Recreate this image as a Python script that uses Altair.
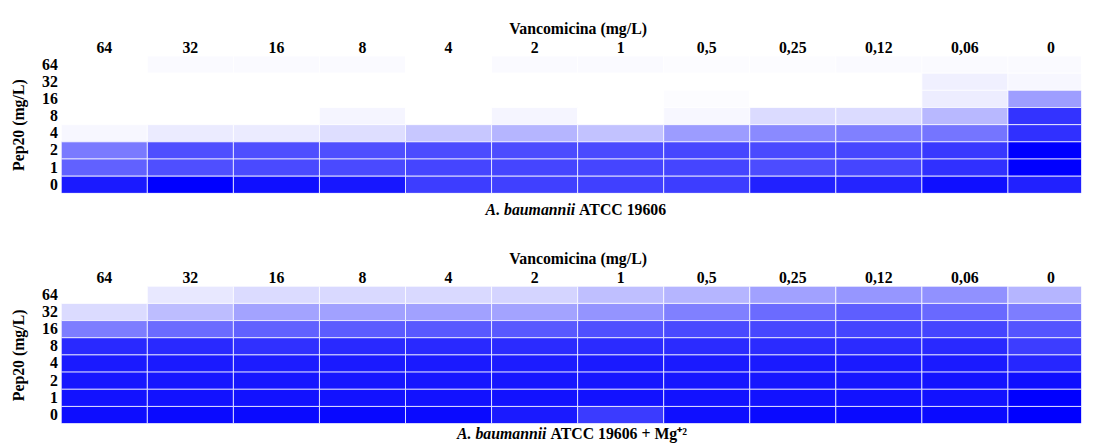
import altair as alt
import pandas as pd

# Vancomycin concentrations (columns) and Pep20 concentrations (rows, top to bottom)
vanco_labels = ["64", "32", "16", "8", "4", "2", "1", "0,5", "0,25", "0,12", "0,06", "0"]
pep_labels = ["64", "32", "16", "8", "4", "2", "1", "0"]

# Bacterial growth (% of control) for A. baumannii ATCC 19606, one list per Pep20 row
growth_std = [
    [0, 2, 2, 2, 0, 2, 2, 1, 1, 2, 2, 2],
    [0, 0, 0, 0, 0, 0, 0, 0, 0, 0, 6, 3],
    [0, 0, 0, 0, 0, 0, 0, 1, 0, 0, 7, 38],
    [0, 0, 0, 4, 0, 4, 0, 3, 14, 14, 28, 80],
    [3, 8, 8, 13, 22, 29, 24, 39, 46, 50, 54, 81],
    [52, 69, 69, 69, 70, 70, 71, 72, 71, 72, 78, 100],
    [62, 69, 71, 71, 73, 73, 73, 73, 70, 73, 81, 100],
    [90, 100, 94, 91, 76, 75, 75, 76, 87, 86, 94, 87],
]

# Same strain with Mg+2 supplementation
growth_mg = [
    [0, 9, 14, 15, 15, 17, 25, 29, 37, 41, 43, 29],
    [14, 26, 36, 37, 37, 36, 42, 50, 58, 63, 59, 51],
    [51, 58, 62, 64, 65, 65, 69, 71, 72, 73, 73, 67],
    [84, 84, 81, 84, 84, 83, 83, 83, 83, 83, 84, 76],
    [90, 90, 89, 90, 90, 89, 90, 90, 90, 90, 90, 85],
    [91, 91, 91, 91, 91, 91, 91, 91, 91, 91, 92, 94],
    [93, 93, 93, 93, 93, 93, 93, 93, 93, 93, 93, 100],
    [95, 96, 96, 97, 96, 90, 77, 94, 96, 96, 96, 100],
]

captions_std = ["A. baumannii", "ATCC 19606"]
captions_mg = ["A. baumannii", "ATCC 19606 + Mg\u207a\u00b2"]

FONT = "Liberation Serif"
FS = 16
W, H = 1032, 139
BAND_SPAN = 1045


def panel(values, caption, split_x, caption_y):
    records = []
    for i, p in enumerate(pep_labels):
        for j, v in enumerate(vanco_labels):
            records.append({"Vancomicina": v, "Pep20": p, "Crescimento": values[i][j]})
    df = pd.DataFrame(records)

    heat = alt.Chart(df).mark_rect(
        stroke="white", strokeWidth=1, strokeOpacity=0.75, clip=True
    ).encode(
        x=alt.X(
            "Vancomicina:N",
            sort=vanco_labels,
            scale=alt.Scale(range=[0, BAND_SPAN], paddingInner=0, paddingOuter=0),
            axis=alt.Axis(
                orient="top", title="Vancomicina (mg/L)", labelAngle=0,
                ticks=False, domain=False, labelPadding=1, titlePadding=3,
                labelFont=FONT, labelFontSize=FS, labelFontWeight="bold", labelColor="black",
                titleFont=FONT, titleFontSize=FS, titleFontWeight="bold", titleColor="black",
            ),
        ),
        y=alt.Y(
            "Pep20:N",
            sort=pep_labels,
            scale=alt.Scale(paddingInner=0, paddingOuter=0),
            axis=alt.Axis(
                title="Pep20 (mg/L)", ticks=False, domain=False,
                labelPadding=4, titlePadding=15,
                labelFont=FONT, labelFontSize=FS, labelFontWeight="bold", labelColor="black",
                titleFont=FONT, titleFontSize=FS, titleFontWeight="bold", titleColor="black",
            ),
        ),
        color=alt.Color(
            "Crescimento:Q",
            scale=alt.Scale(domain=[0, 100], range=["#ffffff", "#0000ff"], interpolate="rgb"),
            legend=None,
        ),
    )

    species = alt.Chart(pd.DataFrame({"t": [caption[0]]})).mark_text(
        font=FONT, fontSize=FS, fontWeight="bold", fontStyle="italic",
        align="right", baseline="middle", color="black",
    ).encode(text="t:N", x=alt.value(split_x - 2), y=alt.value(caption_y))

    strain = alt.Chart(pd.DataFrame({"t": [caption[1]]})).mark_text(
        font=FONT, fontSize=FS, fontWeight="bold",
        align="left", baseline="middle", color="black",
    ).encode(text="t:N", x=alt.value(split_x + 2), y=alt.value(caption_y))

    return alt.layer(heat, species, strain).properties(width=W, height=H)


top = panel(growth_std, captions_std, 522, H + 17)
bottom = panel(growth_mg, captions_mg, 493, H + 11)

chart = alt.vconcat(top, bottom, spacing=94, bounds="flush").configure_view(
    stroke=None
).properties(
    padding={"left": 11, "top": 18, "right": 0, "bottom": 0}
)

chart.save("out.html", embed_options={"renderer": "svg", "actions": False})
